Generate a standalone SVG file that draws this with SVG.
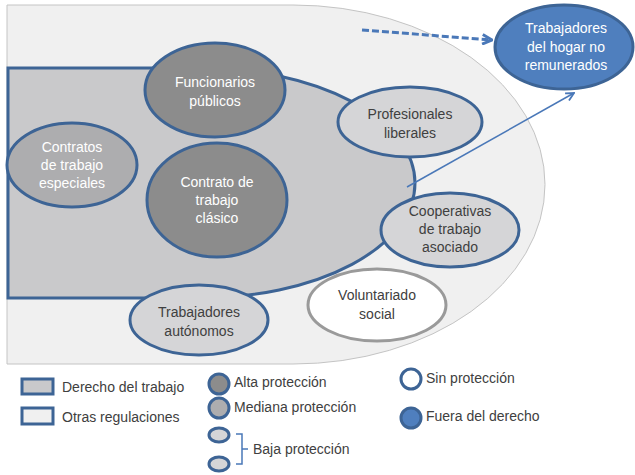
<svg xmlns="http://www.w3.org/2000/svg" width="635" height="475" viewBox="0 0 635 475">
<defs>
<style>
text{font-family:"Liberation Sans",Arial,sans-serif;font-size:14px;fill:#404040;text-anchor:middle}
.w{fill:#ffffff}
.lg{text-anchor:start}
.bs{stroke:#3d6495;stroke-width:3}
.alta{fill:#8c8c8c}
.med{fill:#adadaf}
.baja{fill:#d5d5d7}
.blue{fill:#4f7fbe}
</style>
<marker id="ah" viewBox="0 0 10 10" refX="9" refY="5" markerWidth="10" markerHeight="10" markerUnits="userSpaceOnUse" orient="auto">
<path d="M1,1 L9,5 L1,9" fill="none" stroke="#4a78b8" stroke-width="1.8"/>
</marker>
<marker id="ahd" viewBox="0 0 10 10" refX="9" refY="5" markerWidth="12" markerHeight="12" markerUnits="userSpaceOnUse" orient="auto">
<path d="M1,1 L9,5 L1,9" fill="none" stroke="#4a78b8" stroke-width="2.4"/>
</marker>
</defs>
<rect width="635" height="475" fill="#ffffff"/>
<g id="otras-regulaciones">
<path d="M7,5 H293 A252,179.5 0 0 1 293,364 H7 Z" fill="#f0f0f0" stroke="#c4c4c4" stroke-width="1"/>
</g>
<g id="derecho-del-trabajo">
<path d="M8,68 H200 A215,115 0 0 1 200,298 H8 Z" fill="#c9c9cb" class="bs"/>
</g>
<g id="connectors">
<line x1="362" y1="30" x2="492" y2="40" stroke="#4a78b8" stroke-width="3" stroke-dasharray="7,3" marker-end="url(#ahd)"/>
<line x1="407" y1="187" x2="574" y2="93" stroke="#4a78b8" stroke-width="1.5" marker-end="url(#ah)"/>
</g>
<g id="funcionarios">
<ellipse cx="215" cy="90" rx="70" ry="47" class="alta bs"/>
<text class="w" x="215" y="87">Funcionarios</text>
<text class="w" x="215" y="106">públicos</text>
</g>
<g id="contratos-especiales">
<ellipse cx="72" cy="165" rx="65" ry="42" class="med bs"/>
<text class="w" x="72" y="152">Contratos</text>
<text class="w" x="72" y="170">de trabajo</text>
<text class="w" x="72" y="188">especiales</text>
</g>
<g id="contrato-clasico">
<ellipse cx="217" cy="200" rx="70" ry="57" class="alta bs"/>
<text class="w" x="217" y="187">Contrato de</text>
<text class="w" x="217" y="205">trabajo</text>
<text class="w" x="217" y="223">clásico</text>
</g>
<g id="profesionales">
<ellipse cx="410" cy="122" rx="72" ry="35" class="baja bs"/>
<text x="410" y="119">Profesionales</text>
<text x="410" y="138">liberales</text>
</g>
<g id="cooperativas">
<ellipse cx="450" cy="230" rx="69" ry="37" class="baja bs"/>
<text x="450" y="216">Cooperativas</text>
<text x="450" y="234">de trabajo</text>
<text x="450" y="252">asociado</text>
</g>
<g id="voluntariado">
<ellipse cx="377" cy="305" rx="69" ry="36" fill="#ffffff" stroke="#9a9a9a" stroke-width="3"/>
<text x="377" y="300">Voluntariado</text>
<text x="377" y="319">social</text>
</g>
<g id="autonomos">
<ellipse cx="199" cy="320" rx="69" ry="35" class="baja bs"/>
<text x="199" y="317">Trabajadores</text>
<text x="199" y="336">autónomos</text>
</g>
<g id="hogar">
<ellipse cx="564" cy="47" rx="69" ry="42" class="blue bs"/>
<text class="w" x="566" y="33">Trabajadores</text>
<text class="w" x="566" y="52">del hogar no</text>
<text class="w" x="566" y="70">remunerados</text>
</g>
<g id="legend">
<rect x="22" y="379" width="31" height="15" fill="#c9c9cb" class="bs" stroke-width="2.5"/>
<text class="lg" x="62" y="392">Derecho del trabajo</text>
<rect x="22" y="408" width="31" height="16" fill="#f0f0f0" class="bs" stroke-width="2.5"/>
<text class="lg" x="62" y="422">Otras regulaciones</text>
<circle cx="219" cy="384" r="10" class="alta bs" stroke-width="2.5"/>
<text class="lg" x="234" y="387">Alta protección</text>
<circle cx="219" cy="408" r="10" class="med bs" stroke-width="2.5"/>
<text class="lg" x="234" y="412">Mediana protección</text>
<ellipse cx="219" cy="435" rx="10" ry="7" class="baja bs" stroke-width="2.5"/>
<ellipse cx="219" cy="464" rx="10" ry="7" class="baja bs" stroke-width="2.5"/>
<path d="M236,434 H242 V464 H236 M242,449 H248" fill="none" stroke="#4a78b8" stroke-width="1.5"/>
<text class="lg" x="253" y="454">Baja protección</text>
<circle cx="411" cy="379" r="10" fill="#ffffff" class="bs" stroke-width="2.5"/>
<text class="lg" x="426" y="383">Sin protección</text>
<circle cx="411" cy="418" r="10" class="blue bs" stroke-width="2.5"/>
<text class="lg" x="426" y="421">Fuera del derecho</text>
</g>
</svg>
